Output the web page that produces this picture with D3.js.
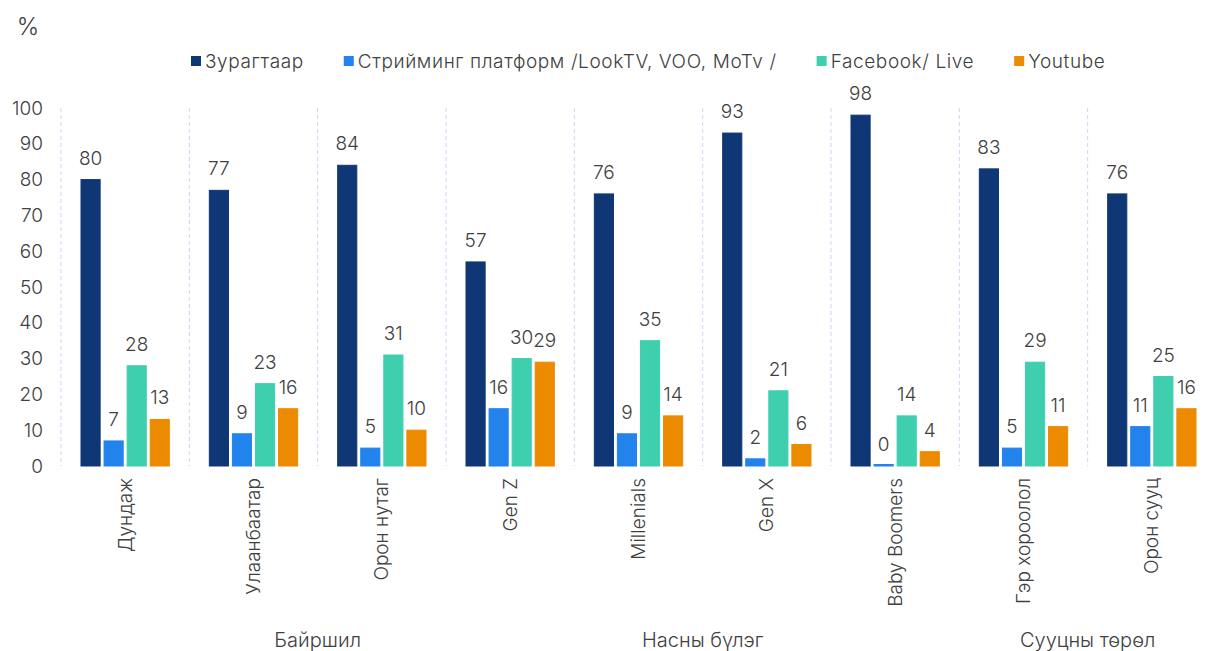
<!DOCTYPE html>
<html>
<head>
<meta charset="utf-8">
<script src="https://cdn.jsdelivr.net/npm/d3@7"></script>
<style>
  html, body { margin: 0; padding: 0; background: #ffffff; }
  svg { display: block; font-family: "Inter", "Noto Sans", sans-serif; font-weight: 300; }
</style>
</head>
<body>
<svg id="chart" width="1207" height="651"></svg>
<script>
// Categories along the x axis
const categories = ["Дундаж", "Улаанбаатар", "Орон нутаг", "Gen Z", "Millenials", "Gen X", "Baby Boomers", "Гэр хороолол", "Орон сууц"];

// Series names and values (%)
const seriesNames = ["Зурагтаар", "Стрийминг платформ /LookTV, VOO, MoTv /", "Facebook/ Live", "Youtube"];
const tvValues       = [80, 77, 84, 57, 76, 93, 98, 83, 76];
const streamValues   = [7, 9, 5, 16, 9, 2, 0, 5, 11];
const facebookValues = [28, 23, 31, 30, 35, 21, 14, 29, 25];
const youtubeValues  = [13, 16, 10, 29, 14, 6, 4, 11, 16];

// Y axis ticks
const yTicks = [0, 10, 20, 30, 40, 50, 60, 70, 80, 90, 100];

// Group labels, each centred on the boundary after the given category index
const groupLabels = ["Байршил", "Насны бүлэг", "Сууцны төрөл"];
const groupAfter = [1, 4, 7];

const colors = ["#0f3775", "#2383ec", "#3ecfae", "#ec8b00"];
const seriesValues = [tvValues, streamValues, facebookValues, youtubeValues];

const svg = d3.select("#chart");
const textColor = "#404040";
const labelSize = "19px";

const plotLeft = 61, plotRight = 1216, plotTop = 108, plotBottom = 466;

const x = d3.scaleBand().domain(categories).range([plotLeft, plotRight]).paddingInner(0).paddingOuter(0);
const x1 = d3.scaleBand().domain(d3.range(seriesNames.length)).range([20, x.bandwidth() - 20]).paddingInner(0.17).paddingOuter(0);
const y = d3.scaleLinear().domain([0, 100]).range([plotBottom, plotTop]);

// Dashed category separators
const seps = d3.range(0, categories.length + 1).map(i => plotLeft + i * x.step());
svg.append("g").selectAll("line")
  .data(seps)
  .join("line")
  .attr("x1", d => d).attr("x2", d => d)
  .attr("y1", y(100)).attr("y2", y(0))
  .attr("stroke", "#c9d7f2").attr("stroke-width", 1)
  .attr("stroke-dasharray", "4,3");

// Y axis labels
const yAxis = d3.axisLeft(y).tickValues(yTicks).tickSize(0).tickPadding(0);
const yg = svg.append("g").attr("transform", `translate(43,0)`).call(yAxis);
yg.select(".domain").remove();
yg.selectAll("text")
  .attr("fill", textColor)
  .style("font-size", labelSize)
  .style("font-family", "Inter, 'Noto Sans', sans-serif")
  .style("font-weight", 300);

// "%" unit
svg.append("text").attr("x", 28).attr("y", 35).attr("text-anchor", "middle")
  .attr("fill", textColor).style("font-size", "24px").text("%");

// Bars (a zero value still shows as a hairline on the baseline)
const groups = svg.append("g").selectAll("g")
  .data(categories)
  .join("g")
  .attr("transform", d => `translate(${x(d)},0)`);

groups.each(function(cat, ci) {
  const g = d3.select(this);
  seriesValues.forEach((vals, si) => {
    const v = vals[ci];
    const h = Math.max(y(0) - y(v), 1.5);
    g.append("rect")
      .attr("x", x1(si))
      .attr("y", y(0) - h)
      .attr("width", x1.bandwidth())
      .attr("height", h)
      .attr("fill", colors[si])
      .attr("stroke", colors[si])
      .attr("stroke-width", 1);
    g.append("text")
      .attr("x", x1(si) + x1.bandwidth() / 2)
      .attr("y", y(v) - 15)
      .attr("text-anchor", "middle")
      .attr("fill", textColor)
      .style("font-size", labelSize)
      .text(v);
  });
});

// Rotated category labels
svg.append("g").selectAll("text")
  .data(categories)
  .join("text")
  .attr("transform", d => `translate(${x(d) + x.bandwidth() / 2},478) rotate(-90)`)
  .attr("text-anchor", "end")
  .attr("dy", "0.35em")
  .attr("fill", textColor)
  .style("font-size", labelSize)
  .text(d => d);

// Group labels
svg.append("g").selectAll("text")
  .data(groupLabels)
  .join("text")
  .attr("x", (d, i) => plotLeft + (groupAfter[i] + 1) * x.step())
  .attr("y", 647)
  .attr("text-anchor", "middle")
  .attr("fill", textColor)
  .style("font-size", "20px")
  .text(d => d);

// Legend: items laid out left to right, each after the previous text
const legend = svg.append("g").attr("transform", "translate(191,56)");
let lx = 0;
seriesNames.forEach((name, i) => {
  const item = legend.append("g").attr("transform", `translate(${lx},0)`);
  item.append("rect").attr("width", 10).attr("height", 10).attr("fill", colors[i]);
  const t = item.append("text").attr("x", 14).attr("y", 5).attr("dy", "0.35em")
    .attr("fill", textColor).style("font-size", labelSize)
    .style("letter-spacing", "0.6px").text(name);
  lx += 14 + t.node().getComputedTextLength() + 40;
});
</script>
</body>
</html>
